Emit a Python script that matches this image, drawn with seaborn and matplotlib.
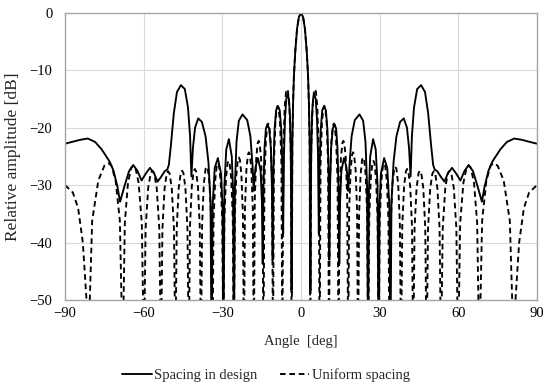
import matplotlib
matplotlib.use("Agg")
import matplotlib.pyplot as plt
import seaborn as sns
import pandas as pd

# ---- data (angle in deg, relative amplitude in dB) ----
design_angle_left = [-90.0, -86.5, -84.0, -81.3, -78.5, -76.0, -73.0, -71.5, -70.0, -69.0, -67.4, -65.6,
                     -64.0, -62.4, -60.8, -59.2, -57.6, -56.0, -54.7, -53.4, -52.0, -51.0, -50.4, -49.6,
                     -48.5, -47.3, -45.8, -44.3, -43.1, -42.3, -41.8, -41.2, -40.4, -39.2, -37.8, -36.4,
                     -35.3, -34.5, -34.1, -33.7, -32.9, -31.7, -30.5, -29.9, -29.6, -29.2, -28.5, -27.5,
                     -26.4, -25.9, -25.6, -25.2, -24.6, -23.7, -22.3, -20.5, -19.3, -18.5, -18.0, -17.7,
                     -17.3, -16.4, -15.4, -14.9, -14.6, -14.3, -13.9, -13.4, -12.8, -12.1, -11.5, -11.1,
                     -10.8, -10.5, -10.1, -9.5, -8.8, -8.1, -7.5, -7.1, -6.8, -6.5, -6.1, -5.6,
                     -5.1, -4.6, -4.2, -3.85, -3.6, -3.3, -3.0, -2.7, -2.2, -1.5, -0.8]
design_db_left = [-22.8, -22.4, -22.1, -21.9, -22.5, -23.8, -25.9, -27.5, -30.3, -32.9, -30.3, -27.6,
                  -26.5, -27.5, -29.2, -28.0, -27.0, -28.0, -29.4, -28.6, -27.6, -27.3, -26.5, -23.0,
                  -17.5, -13.8, -12.6, -13.3, -16.5, -21.5, -28.5, -23.5, -20.0, -18.4, -19.0, -21.5,
                  -26.0, -33.0, -60.0, -33.5, -27.0, -25.3, -28.0, -34.0, -60.0, -30.0, -23.8, -22.0,
                  -25.0, -31.0, -60.0, -30.0, -22.5, -18.8, -17.7, -18.7, -21.5, -26.5, -31.0, -28.5,
                  -26.8, -25.3, -27.5, -33.0, -43.7, -30.0, -23.5, -20.2, -19.4, -20.2, -23.5, -30.0,
                  -43.0, -27.0, -20.5, -17.0, -16.3, -17.0, -20.5, -27.0, -38.5, -25.0, -18.5, -15.0,
                  -14.2, -15.0, -18.0, -26.0, -48.3, -22.5, -15.5, -11.0, -6.8, -2.8, -0.75]
design_angle_right = [0.0, 0.8, 1.5, 2.2, 2.7, 3.0, 3.3, 3.6, 3.85, 4.2, 4.6, 5.1,
                      5.6, 6.1, 6.5, 6.8, 7.1, 7.5, 8.1, 8.8, 9.5, 10.1, 10.5, 10.8,
                      11.1, 11.5, 12.1, 12.8, 13.4, 13.9, 14.3, 14.6, 14.9, 15.4, 16.4, 17.3,
                      17.7, 18.0, 18.5, 19.3, 20.5, 22.3, 23.7, 24.6, 25.2, 25.6, 25.9, 26.4,
                      27.5, 28.5, 29.2, 29.6, 29.9, 30.5, 31.7, 32.9, 33.7, 34.1, 34.5, 35.3,
                      36.4, 37.8, 39.2, 40.4, 41.2, 41.8, 42.3, 43.1, 44.3, 45.8, 47.3, 48.5,
                      49.6, 50.4, 51.0, 52.0, 53.4, 54.7, 56.0, 57.6, 59.2, 60.8, 62.4, 64.0,
                      65.6, 67.4, 69.0, 70.0, 71.5, 73.0, 76.0, 78.5, 81.3, 84.0, 86.5, 90.0]
design_db_right = [0.0, -0.75, -2.8, -6.8, -11.0, -15.5, -22.5, -48.3, -26.0, -18.0, -15.0, -14.2,
                   -15.0, -18.5, -25.0, -38.5, -27.0, -20.5, -17.0, -16.3, -17.0, -20.5, -27.0, -43.0,
                   -30.0, -23.5, -20.2, -19.4, -20.2, -23.5, -30.0, -43.7, -33.0, -27.5, -25.3, -26.8,
                   -28.5, -31.0, -26.5, -21.5, -18.7, -17.7, -18.8, -22.5, -30.0, -60.0, -31.0, -25.0,
                   -22.0, -23.8, -30.0, -60.0, -34.0, -28.0, -25.3, -27.0, -33.5, -60.0, -33.0, -26.0,
                   -21.5, -19.0, -18.4, -20.0, -23.5, -28.5, -21.5, -16.5, -13.3, -12.6, -13.8, -17.5,
                   -23.0, -26.5, -27.3, -27.6, -28.6, -29.4, -28.0, -27.0, -28.0, -29.2, -27.5, -26.5,
                   -27.6, -30.3, -32.9, -30.3, -27.5, -25.9, -23.8, -22.5, -21.9, -22.1, -22.4, -22.8]

uniform_angle_left = [-90.00, -87.00, -85.00, -83.20, -81.80, -81.20,
                      -79.64, -77.30, -74.96, -73.40, -72.32, -70.70, -69.08, -68.00,
                      -67.19, -65.98, -64.76, -63.80, -63.14, -61.93, -60.71, -59.90,
                      -59.25, -58.28, -57.30, -56.65, -56.00, -55.03, -54.05, -53.40,
                      -52.85, -52.03, -51.20, -50.65, -50.10, -49.28, -48.45, -47.90,
                      -47.39, -46.63, -45.86, -45.35, -44.84, -44.08, -43.31, -42.80,
                      -42.34, -41.64, -40.94, -40.48, -40.01, -39.31, -38.62, -38.15,
                      -37.71, -37.06, -36.40, -35.96, -35.52, -34.87, -34.21, -33.77,
                      -33.35, -32.73, -32.11, -31.69, -31.27, -30.65, -30.03, -29.61,
                      -29.21, -28.61, -28.01, -27.62, -27.22, -26.62, -26.02, -25.62,
                      -25.23, -24.66, -24.08, -23.69, -23.30, -22.73, -22.15, -21.76,
                      -21.38, -20.82, -20.25, -19.88, -19.50, -18.93, -18.37, -17.99,
                      -17.62, -17.07, -16.52, -16.15, -15.78, -15.23, -14.68, -14.31,
                      -13.95, -13.40, -12.86, -12.50, -12.13, -11.59, -11.04, -10.68,
                      -10.32, -9.79, -9.25, -8.89, -8.53, -7.99, -7.46, -7.10,
                      -6.74, -6.21, -5.68, -5.32, -4.96, -4.43, -3.90, -3.54,
                      -3.3, -3.0, -2.7, -2.2, -1.5, -0.8]
uniform_db_left = [-30.0, -31.3, -34.0, -40.0, -50.0, -60.0,
                   -36.2, -29.2, -26.6, -26.2, -26.6, -29.2, -36.2, -60.0,
                   -36.6, -29.6, -27.0, -26.6, -27.0, -29.6, -36.6, -60.0,
                   -37.5, -30.5, -27.9, -27.5, -27.9, -30.5, -37.5, -60.0,
                   -37.6, -30.6, -28.0, -27.6, -28.0, -30.6, -37.6, -60.0,
                   -37.5, -30.5, -27.9, -27.5, -27.9, -30.5, -37.5, -60.0,
                   -37.2, -30.2, -27.6, -27.2, -27.6, -30.2, -37.2, -60.0,
                   -36.8, -29.8, -27.2, -26.8, -27.2, -29.8, -36.8, -60.0,
                   -36.2, -29.2, -26.6, -26.2, -26.6, -29.2, -36.2, -60.0,
                   -35.8, -28.8, -26.2, -25.8, -26.2, -28.8, -35.8, -60.0,
                   -35.2, -28.2, -25.6, -25.2, -25.6, -28.2, -35.2, -60.0,
                   -34.3, -27.3, -24.7, -24.3, -24.7, -27.3, -34.3, -60.0,
                   -32.3, -25.3, -22.7, -22.3, -22.7, -25.3, -32.3, -60.0,
                   -29.3, -22.3, -19.7, -19.3, -19.7, -22.3, -29.3, -60.0,
                   -26.2, -19.2, -16.6, -16.2, -16.6, -19.2, -26.2, -60.0,
                   -23.5, -16.3, -13.7, -13.3, -13.7, -16.3, -23.5, -60.0,
                   -22.5, -15.5, -11.0, -6.8, -2.8, -0.75]
uniform_angle_right = [0.0, 0.8, 1.5, 2.2, 2.7, 3.0, 3.3, 3.54,
                       3.90, 4.43, 4.96, 5.32, 5.68, 6.21, 6.74, 7.10,
                       7.46, 7.99, 8.53, 8.89, 9.25, 9.79, 10.32, 10.68,
                       11.04, 11.59, 12.13, 12.50, 12.86, 13.40, 13.95, 14.31,
                       14.68, 15.23, 15.78, 16.15, 16.52, 17.07, 17.62, 17.99,
                       18.37, 18.93, 19.50, 19.88, 20.25, 20.82, 21.38, 21.76,
                       22.15, 22.73, 23.30, 23.69, 24.08, 24.66, 25.23, 25.62,
                       26.02, 26.62, 27.22, 27.62, 28.01, 28.61, 29.21, 29.61,
                       30.03, 30.65, 31.27, 31.69, 32.11, 32.73, 33.35, 33.77,
                       34.21, 34.87, 35.52, 35.96, 36.40, 37.06, 37.71, 38.15,
                       38.62, 39.31, 40.01, 40.48, 40.94, 41.64, 42.34, 42.80,
                       43.31, 44.08, 44.84, 45.35, 45.86, 46.63, 47.39, 47.90,
                       48.45, 49.28, 50.10, 50.65, 51.20, 52.03, 52.85, 53.40,
                       54.05, 55.03, 56.00, 56.65, 57.30, 58.28, 59.25, 59.90,
                       60.71, 61.93, 63.14, 63.80, 64.76, 65.98, 67.19, 68.00,
                       69.08, 70.70, 72.32, 73.40, 74.96, 77.30, 79.64, 81.20,
                       81.80, 83.20, 85.00, 87.00, 90.00]
uniform_db_right = [0.0, -0.75, -2.8, -6.8, -11.0, -15.5, -22.5, -60.0,
                    -23.5, -16.3, -13.7, -13.3, -13.7, -16.3, -23.5, -60.0,
                    -26.2, -19.2, -16.6, -16.2, -16.6, -19.2, -26.2, -60.0,
                    -29.3, -22.3, -19.7, -19.3, -19.7, -22.3, -29.3, -60.0,
                    -32.3, -25.3, -22.7, -22.3, -22.7, -25.3, -32.3, -60.0,
                    -34.3, -27.3, -24.7, -24.3, -24.7, -27.3, -34.3, -60.0,
                    -35.2, -28.2, -25.6, -25.2, -25.6, -28.2, -35.2, -60.0,
                    -35.8, -28.8, -26.2, -25.8, -26.2, -28.8, -35.8, -60.0,
                    -36.2, -29.2, -26.6, -26.2, -26.6, -29.2, -36.2, -60.0,
                    -36.8, -29.8, -27.2, -26.8, -27.2, -29.8, -36.8, -60.0,
                    -37.2, -30.2, -27.6, -27.2, -27.6, -30.2, -37.2, -60.0,
                    -37.5, -30.5, -27.9, -27.5, -27.9, -30.5, -37.5, -60.0,
                    -37.6, -30.6, -28.0, -27.6, -28.0, -30.6, -37.6, -60.0,
                    -37.5, -30.5, -27.9, -27.5, -27.9, -30.5, -37.5, -60.0,
                    -36.6, -29.6, -27.0, -26.6, -27.0, -29.6, -36.6, -60.0,
                    -36.2, -29.2, -26.6, -26.2, -26.6, -29.2, -36.2, -60.0,
                    -50.0, -40.0, -34.0, -31.3, -30.0]

x_ticks = [-90, -60, -30, 0, 30, 60, 90]
y_ticks = [-50, -40, -30, -20, -10, 0]
series_names = ["Spacing in design", "Uniform spacing"]

# ---- figure ----
sns.set_theme(style="white")
plt.rcParams["font.family"] = ["Liberation Serif", "DejaVu Serif"]

df_design = pd.DataFrame({"angle": design_angle_left + design_angle_right,
                          "db": design_db_left + design_db_right})
df_uniform = pd.DataFrame({"angle": uniform_angle_left + uniform_angle_right,
                           "db": uniform_db_left + uniform_db_right})

fig = plt.figure(figsize=(5.44, 3.87), dpi=100)
ax = fig.add_axes([0.1195, 0.2248, 0.8676, 0.7424])

sns.lineplot(data=df_design, x="angle", y="db", ax=ax, color="black", lw=1.35,
             sort=False, estimator=None, label=series_names[0])
sns.lineplot(data=df_uniform, x="angle", y="db", ax=ax, color="black", lw=1.35,
             sort=False, estimator=None, label=series_names[1], linestyle=(0, (3, 2)))

ax.set_xlim(-90, 90)
ax.set_ylim(-50, 0)
ax.set_xticks(x_ticks)
ax.set_yticks(y_ticks)
ax.set_xticklabels([f"{t}".replace("-", "\u2212") for t in x_ticks])
ax.set_yticklabels([f"{t}".replace("-", "\u2212") for t in y_ticks])
ax.grid(True, color="#d9d9d9", lw=0.8)
ax.set_axisbelow(True)
for s in ax.spines.values():
    s.set_color("#a6a6a6")
    s.set_linewidth(1.0)
ax.tick_params(axis="both", length=0, labelsize=10.5, colors="black")
ax.tick_params(axis="y", pad=9)
ax.tick_params(axis="x", pad=5)
ax.set_xlabel("Angle  [deg]", fontsize=10.5, labelpad=11)
ax.set_ylabel("Relative amplitude [dB]", fontsize=12.5, labelpad=6)

ax.legend_.remove()
handles, labels = ax.get_legend_handles_labels()
fig.legend(handles, labels, loc="center", bbox_to_anchor=(0.489, 0.031), ncol=2,
           frameon=False, fontsize=10.5, handlelength=2.0, handletextpad=0.2,
           columnspacing=1.5)

fig.savefig("out.png", dpi=100)
